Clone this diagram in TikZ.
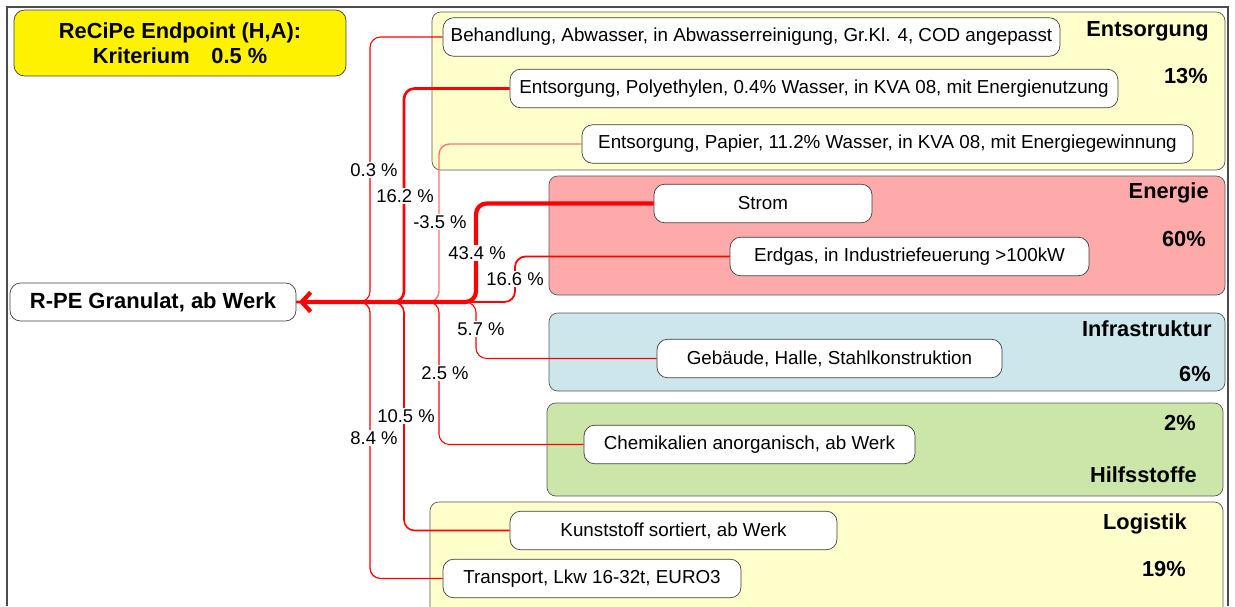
\documentclass[tikz,border=0pt]{standalone}
\usepackage{fontspec}
\setmainfont{Liberation Sans}
\usetikzlibrary{arrows.meta}
\definecolor{paleyellow}{RGB}{255,255,204}
\definecolor{palered}{RGB}{255,170,170}
\definecolor{paleblue}{RGB}{204,230,236}
\definecolor{palegreen}{RGB}{204,230,170}
\definecolor{flowred}{RGB}{255,0,0}
\begin{document}
\begin{tikzpicture}%
[x=0.02cm,y=-0.02cm,%
grp/.style={draw=black!65, rounded corners=5pt},%
proc/.style={draw=black!75, fill=white, rounded corners=6pt, minimum height=0.77cm,%
  inner sep=0pt, font=\fontsize{10.7}{12}\selectfont},%
head/.style={font=\fontsize{12.4}{14}\selectfont\bfseries, anchor=east, inner sep=0pt},%
pct/.style={fill=white, inner sep=1pt, font=\fontsize{10.5}{12}\selectfont},%
flow/.style={draw=flowred, rounded corners=6pt}]
\useasboundingbox (0,0) rectangle (1235,606);
% frame
\draw[black!70, line width=1pt] (7,606) -- (7,7) -- (1228,7) -- (1228,606);
% groups
\draw[grp, fill=paleyellow] (432,12) rectangle (1225,170);
\draw[grp, fill=palered] (549,176) rectangle (1225,295);
\draw[grp, fill=paleblue] (549,313) rectangle (1225,391);
\draw[grp, fill=palegreen] (547,403) rectangle (1223,496);
\draw[grp, fill=paleyellow] (430,502) rectangle (1223,625);
\node[head] (ents) at (1209,31) {Entsorgung};
\node[head] (entsp) at (1208,76) {13\%};
\node[head] (ener) at (1209,193) {Energie};
\node[head] (enerp) at (1206,239) {60\%};
\node[head] (infra) at (1212,329) {Infrastruktur};
\node[head] (infrap) at (1211,374) {6\%};
\node[head] (hilfp) at (1196,423) {2\%};
\node[head] (hilf) at (1197,475) {Hilfsstoffe};
\node[head] (logi) at (1187,524) {Logistik};
\node[head] (logip) at (1186,569) {19\%};
% title and product
\node[draw=black!75, fill=yellow, rounded corners=6pt, minimum width=6.64cm, minimum height=1.32cm,%
  align=center, font=\fontsize{12.4}{14.5}\selectfont\bfseries] (title) at (180,43)
  {ReCiPe Endpoint (H,A):\\Kriterium\quad 0.5 \%};
\node[draw=black!75, fill=white, rounded corners=6pt, minimum width=5.72cm, minimum height=0.76cm,%
  font=\fontsize{12.5}{14}\selectfont\bfseries] (rpe) at (153,302) {R-PE Granulat, ab Werk};
% processes
\node[proc, minimum width=12.34cm] (abwasser) at (751.5,37) {Behandlung, Abwasser, in Abwasserreinigung, Gr.Kl. 4, COD angepasst};
\node[proc, minimum width=12.16cm] (pe) at (814,88.5) {Entsorgung, Polyethylen, 0.4\% Wasser, in KVA 08, mit Energienutzung};
\node[proc, minimum width=12.22cm] (papier) at (887.5,144) {Entsorgung, Papier, 11.2\% Wasser, in KVA 08, mit Energiegewinnung};
\node[proc, minimum width=4.36cm] (strom) at (763,203.5) {Strom};
\node[proc, minimum width=7.18cm] (erdgas) at (909.5,256.5) {Erdgas, in Industriefeuerung >100kW};
\node[proc, minimum width=6.9cm] (halle) at (829.5,358.5) {Gebäude, Halle, Stahlkonstruktion};
\node[proc, minimum width=6.62cm] (chem) at (749.5,444.5) {Chemikalien anorganisch, ab Werk};
\node[proc, minimum width=6.54cm] (kunst) at (673.5,530.5) {Kunststoff sortiert, ab Werk};
\node[proc, minimum width=5.96cm] (lkw) at (592,578.5) {Transport, Lkw 16-32t, EURO3};
% columns
\coordinate (c1) at (370,302);
\coordinate (c2) at (404,302);
\coordinate (c3) at (439,302);
\coordinate (c4) at (476,302);
\coordinate (c5) at (515,302);
% flows
\draw[flow, line width=0.6pt] (abwasser.west) -| (c1) -- (rpe.east);
\draw[flow, line width=1.5pt] (pe.west) -| (c2) -- (rpe.east);
\draw[flow, draw=flowred!55, line width=0.8pt] (papier.west) -| (c3) -- (rpe.east);
\draw[flow, line width=1pt] (erdgas.west) -| (c5) -- (rpe.east);
\draw[flow, line width=0.6pt] (halle.west) -| (c4) -- (rpe.east);
\draw[flow, line width=0.6pt] (chem.west) -| (c3) -- (rpe.east);
\draw[flow, line width=0.9pt] (kunst.west) -| (c2) -- (rpe.east);
\draw[flow, line width=0.7pt] (lkw.west) -| (c1) -- (rpe.east);
\draw[flow, line width=2.4pt, -{Straight Barb[length=5pt,width=11pt]}] (strom.west) -| (c4) -- ([xshift=1.5pt]rpe.east);
% shares
\node[pct] (p1) at (374,170) {0.3 \%};
\node[pct] (p2) at (405,196) {16.2 \%};
\node[pct] (p3) at (440,222) {-3.5 \%};
\node[pct] (p4) at (477,253) {43.4 \%};
\node[pct] (p5) at (515,279) {16.6 \%};
\node[pct] (p6) at (481,329) {5.7 \%};
\node[pct] (p7) at (445,373) {2.5 \%};
\node[pct] (p8) at (406,416) {10.5 \%};
\node[pct] (p9) at (374,438) {8.4 \%};
\end{tikzpicture}
\end{document}
